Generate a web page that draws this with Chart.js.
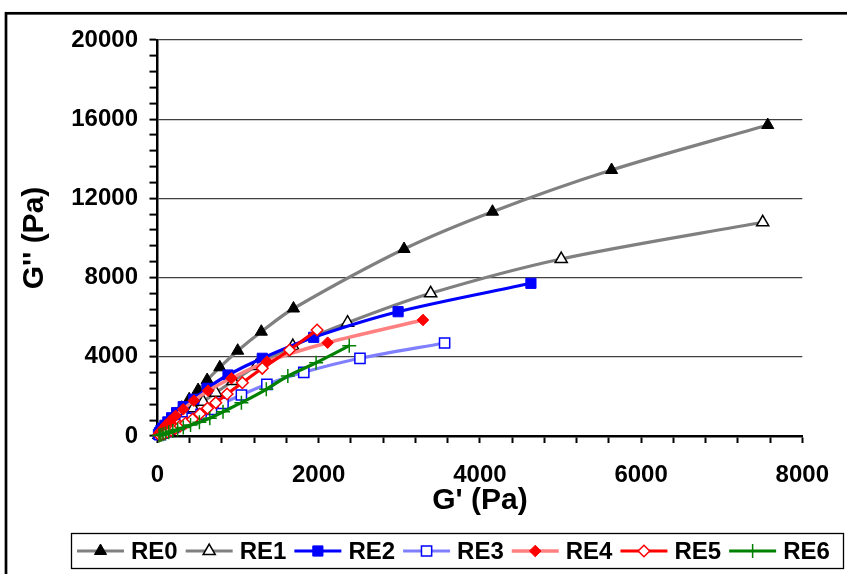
<!DOCTYPE html>
<html>
<head>
<meta charset="utf-8">
<script src="https://cdn.jsdelivr.net/npm/chart.js@4/dist/chart.umd.min.js"></script>
<style>
  html, body { margin: 0; padding: 0; background: #fff; }
  #wrap { width: 847px; height: 574px; }
</style>
</head>
<body>
<div id="wrap"><canvas id="c" width="847" height="574"></canvas></div>
<script>
// ---- data (G' in Pa, G'' in Pa) ----
const seriesNames = ['RE0', 'RE1', 'RE2', 'RE3', 'RE4', 'RE5', 'RE6'];

const re0G1 = [30, 55, 85, 120, 165, 225, 300, 393, 504, 616, 773, 995, 1288, 1687, 3059, 4156, 5634, 7571];
const re0G2 = [140, 270, 420, 600, 820, 1090, 1430, 1853, 2323, 2828, 3470, 4308, 5268, 6439, 9444, 11328, 13434, 15707];

const re1G1 = [20, 45, 75, 110, 150, 200, 265, 345, 443, 566, 723, 937, 1226, 1679, 2358, 3389, 5009, 7509];
const re1G2 = [60, 150, 260, 380, 510, 670, 870, 1110, 1399, 1732, 2187, 2778, 3535, 4545, 5722, 7207, 8939, 10793];

const re2G1 = [12, 25, 42, 64, 92, 128, 175, 237, 319, 451, 616, 875, 1300, 1938, 2985, 4633];
const re2G2 = [80, 170, 280, 400, 540, 710, 920, 1177, 1480, 1854, 2409, 3081, 3924, 4985, 6278, 7712];

const re3G1 = [30, 60, 100, 145, 200, 265, 340, 430, 540, 670, 813, 1041, 1357, 1815, 2512, 3562];
const re3G2 = [70, 140, 230, 330, 440, 570, 720, 890, 1100, 1348, 1652, 2071, 2611, 3217, 3924, 4697];

const re4G1 = [12, 27, 48, 76, 112, 160, 225, 319, 451, 628, 917, 1357, 2111, 3294];
const re4G2 = [80, 170, 280, 410, 570, 770, 1020, 1348, 1783, 2288, 2914, 3753, 4712, 5859];

const re5G1 = [28, 55, 88, 125, 170, 220, 280, 350, 435, 525, 620, 723, 863, 1053, 1300, 1638, 1980];
const re5G2 = [40, 85, 140, 205, 285, 380, 500, 650, 843, 1111, 1399, 1682, 2121, 2692, 3419, 4343, 5354];

const re6G1 = [20, 42, 68, 100, 140, 190, 250, 320, 410, 520, 649, 813, 1041, 1350, 1617, 1968, 2379];
const re6G2 = [25, 55, 90, 130, 185, 250, 330, 430, 550, 700, 894, 1227, 1682, 2359, 3030, 3702, 4561];

const xTitle = "G' (Pa)";
const yTitle = "G'' (Pa)";
const xMin = 0, xMax = 8000, xMinorStep = 400, xMajorStep = 2000;
const yMin = 0, yMax = 20000, yMinorStep = 800, yMajorStep = 4000;

// ---- styles ----
const styles = [
  { line: '#808080', lw: 3.2, ps: 'triangle', r: 7,   fill: '#000000', stroke: '#000000', bw: 1 },
  { line: '#808080', lw: 3.2, ps: 'triangle', r: 7,   fill: '#ffffff', stroke: '#000000', bw: 1.5 },
  { line: '#0000ff', lw: 3.2, ps: 'rect',     r: 7.2, fill: '#0000ff', stroke: '#0000ff', bw: 1 },
  { line: '#8080ff', lw: 3.2, ps: 'rect',     r: 7.2, fill: '#ffffff', stroke: '#0000ff', bw: 1.5 },
  { line: '#ff8080', lw: 3.5, ps: 'rectRot',  r: 5.8, fill: '#ff0000', stroke: '#ff0000', bw: 1 },
  { line: '#ff0000', lw: 3.2, ps: 'rectRot',  r: 5.8, fill: '#ffffff', stroke: '#ff0000', bw: 1.5 },
  { line: '#008000', lw: 3.2, ps: 'cross',    r: 7,   fill: '#008000', stroke: '#008000', bw: 1.5 }
];

const xs = [re0G1, re1G1, re2G1, re3G1, re4G1, re5G1, re6G1];
const ys = [re0G2, re1G2, re2G2, re3G2, re4G2, re5G2, re6G2];

const datasets = seriesNames.map((name, i) => ({
  label: name,
  data: xs[i].map((x, k) => ({ x: x, y: ys[i][k] })),
  borderColor: styles[i].line,
  borderWidth: styles[i].lw,
  backgroundColor: styles[i].fill,
  pointStyle: styles[i].ps,
  pointRadius: styles[i].r,
  pointBackgroundColor: styles[i].fill,
  pointBorderColor: styles[i].stroke,
  pointBorderWidth: styles[i].bw,
  showLine: true,
  tension: 0.3,
  fill: false,
  clip: 10,
  order: seriesNames.length - 1 - i
}));

const FONT = "'Liberation Sans', Arial, Helvetica, sans-serif";

const frameAndBg = {
  id: 'frameAndBg',
  beforeDraw(chart) {
    const ctx = chart.ctx;
    ctx.save();
    ctx.fillStyle = '#ffffff';
    ctx.fillRect(0, 0, chart.width, chart.height);
    ctx.strokeStyle = '#000';
    ctx.lineWidth = 2.7;
    ctx.strokeRect(6, 13.3, 1000, 800);
    ctx.restore();
  }
};

function marker(ctx, st, x, y) {
  ctx.save();
  ctx.fillStyle = st.fill;
  ctx.strokeStyle = st.stroke;
  ctx.lineWidth = st.bw;
  const r = st.r;
  ctx.beginPath();
  if (st.ps === 'triangle') {
    ctx.moveTo(x, y - r);
    ctx.lineTo(x + r * Math.sin(Math.PI / 3), y + r * 0.5);
    ctx.lineTo(x - r * Math.sin(Math.PI / 3), y + r * 0.5);
    ctx.closePath();
    ctx.fill(); ctx.stroke();
  } else if (st.ps === 'rect') {
    const s = r * Math.SQRT1_2;
    ctx.rect(x - s, y - s, 2 * s, 2 * s);
    ctx.fill(); ctx.stroke();
  } else if (st.ps === 'rectRot') {
    ctx.moveTo(x, y - r); ctx.lineTo(x + r, y); ctx.lineTo(x, y + r); ctx.lineTo(x - r, y);
    ctx.closePath();
    ctx.fill(); ctx.stroke();
  } else if (st.ps === 'cross') {
    ctx.moveTo(x - r, y); ctx.lineTo(x + r, y);
    ctx.moveTo(x, y - r); ctx.lineTo(x, y + r);
    ctx.stroke();
  }
  ctx.restore();
}

const customLegend = {
  id: 'customLegend',
  afterDraw(chart) {
    const ctx = chart.ctx;
    ctx.save();
    const boxL = 71.5, boxT = 533.5, boxW = 772, boxH = 35;
    ctx.strokeStyle = '#000';
    ctx.lineWidth = 1.3;
    ctx.strokeRect(boxL, boxT, boxW, boxH);
    const cy = boxT + boxH / 2;
    ctx.font = 'bold 24px ' + FONT;
    ctx.textBaseline = 'middle';
    ctx.textAlign = 'left';
    let x = 77;
    chart.data.datasets.forEach((ds, i) => {
      const st = styles[i];
      ctx.strokeStyle = st.line;
      ctx.lineWidth = st.lw;
      ctx.beginPath();
      ctx.moveTo(x, cy); ctx.lineTo(x + 47, cy);
      ctx.stroke();
      marker(ctx, st, x + 23.5, cy);
      ctx.fillStyle = '#000';
      ctx.fillText(ds.label, x + 54, cy + 1);
      x += 54 + ctx.measureText(ds.label).width + 8;
    });
    ctx.restore();
  }
};

new Chart(document.getElementById('c'), {
  type: 'scatter',
  data: { datasets },
  plugins: [frameAndBg, customLegend],
  options: {
    responsive: false,
    devicePixelRatio: 1,
    animation: false,
    events: [],
    layout: { padding: { left: 20, right: 42.7, top: 40, bottom: 58.3 } },
    plugins: { legend: { display: false }, tooltip: { enabled: false } },
    scales: {
      x: {
        type: 'linear',
        min: xMin, max: xMax,
        afterFit(s) { s.height = 79.7; },
        border: { display: true, color: '#000', width: 2.5 },
        grid: {
          drawOnChartArea: false, drawTicks: true,
          tickLength: 7, tickColor: '#000', tickWidth: 2
        },
        ticks: {
          stepSize: xMinorStep, autoSkip: false, maxRotation: 0, minRotation: 0,
          padding: 18, color: '#000',
          font: { family: FONT, size: 24, weight: 'bold' },
          callback: v => (v % xMajorStep === 0 ? String(v) : '')
        },
        title: {
          display: true, text: xTitle, color: '#000',
          font: { family: FONT, size: 30, weight: 'bold', lineHeight: 1 },
          padding: { top: 0, bottom: 0 }
        }
      },
      y: {
        type: 'linear',
        min: yMin, max: yMax,
        afterFit(s) { s.width = 137.5; },
        border: { display: true, color: '#000', width: 2.5 },
        grid: {
          drawOnChartArea: true, drawTicks: true,
          color: c => (c.tick && c.tick.value % yMajorStep === 0 && c.tick.value !== 0) ? '#404040' : 'rgba(0,0,0,0)',
          lineWidth: 1.2,
          tickLength: 8, tickColor: '#000', tickWidth: 2
        },
        ticks: {
          stepSize: yMinorStep, autoSkip: false,
          padding: 11.5, color: '#000',
          font: { family: FONT, size: 24, weight: 'bold' },
          callback: v => (v % yMajorStep === 0 ? String(v) : '')
        },
        title: {
          display: true, text: yTitle, color: '#000',
          font: { family: FONT, size: 30, weight: 'bold', lineHeight: 1 },
          padding: { top: 0, bottom: 0 }
        }
      }
    }
  }
});
</script>
</body>
</html>
